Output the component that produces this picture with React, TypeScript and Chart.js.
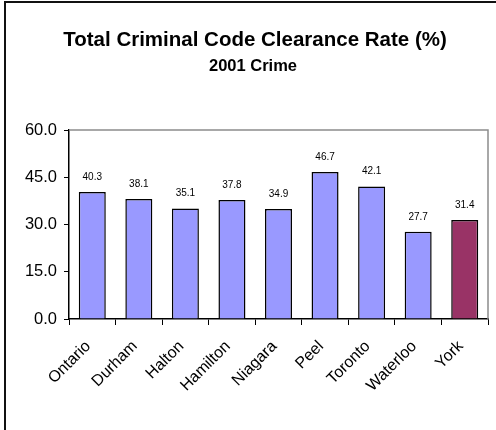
import React, { useEffect, useRef } from "react";
import { Chart, registerables } from "chart.js";

Chart.register(...registerables);

const categories = ["Ontario", "Durham", "Halton", "Hamilton", "Niagara", "Peel", "Toronto", "Waterloo", "York"];
const clearanceRates = [40.3, 38.1, 35.1, 37.8, 34.9, 46.7, 42.1, 27.7, 31.4];
const barColors = ["#9999FF", "#9999FF", "#9999FF", "#9999FF", "#9999FF", "#9999FF", "#9999FF", "#9999FF", "#993366"];
const yTickValues = [0, 15, 30, 45, 60];
const titleText = "Total Criminal Code Clearance Rate (%)";
const subtitleText = "2001 Crime";

const FONT = '"Liberation Sans", Arial, sans-serif';

const decorPlugin = {
  id: "decor",
  beforeDraw(chart: any) {
    const ctx = chart.ctx;
    ctx.save();
    ctx.fillStyle = "#ffffff";
    ctx.fillRect(0, 0, chart.width, chart.height);
    // outer frame (top and left visible)
    ctx.fillStyle = "#111111";
    ctx.fillRect(4, 1, chart.width, 2);
    ctx.fillRect(4, 1, 2, chart.height);
    // titles
    ctx.fillStyle = "#000000";
    ctx.textAlign = "center";
    ctx.textBaseline = "alphabetic";
    ctx.font = `bold 20.5px ${FONT}`;
    ctx.fillText(titleText, 255, 45.5);
    ctx.font = `bold 16.5px ${FONT}`;
    ctx.fillText(subtitleText, 253, 71);
    ctx.restore();
  },
  beforeDatasetsDraw(chart: any) {
    const { ctx, chartArea } = chart;
    ctx.save();
    ctx.strokeStyle = "#8c8c8c";
    ctx.lineWidth = 1.5;
    ctx.beginPath();
    ctx.moveTo(chartArea.left, chartArea.top);
    ctx.lineTo(chartArea.right, chartArea.top);
    ctx.lineTo(chartArea.right, chartArea.bottom);
    ctx.stroke();
    ctx.restore();
  },
  afterDatasetsDraw(chart: any) {
    const ctx = chart.ctx;
    const meta = chart.getDatasetMeta(0);
    ctx.save();
    ctx.fillStyle = "#000000";
    ctx.font = `10px ${FONT}`;
    ctx.textAlign = "center";
    ctx.textBaseline = "alphabetic";
    meta.data.forEach((bar: any, i: number) => {
      ctx.fillText(clearanceRates[i].toFixed(1), bar.x, bar.y - 12);
    });
    ctx.restore();
  },
};

export default function App() {
  const ref = useRef<HTMLCanvasElement>(null);
  useEffect(() => {
    if (!ref.current) return;
    const chart = new Chart(ref.current, {
      type: "bar",
      data: {
        labels: categories,
        datasets: [
          {
            data: clearanceRates,
            backgroundColor: barColors,
            borderColor: "#000000",
            borderWidth: 1.5,
            barPercentage: 0.58,
            categoryPercentage: 1,
          },
        ],
      },
      options: {
        responsive: false,
        animation: false,
        devicePixelRatio: 1,
        layout: { padding: { top: 130, right: 8, bottom: 0, left: 0 } },
        plugins: { legend: { display: false }, tooltip: { enabled: false } },
        scales: {
          x: {
            grid: { drawOnChartArea: false, drawTicks: true, tickLength: 6, color: "#000000", offset: true },
            border: { color: "#000000", width: 1.5 },
            ticks: {
              autoSkip: false,
              maxRotation: 45,
              minRotation: 45,
              color: "#000000",
              padding: 12,
              labelOffset: -4,
              font: { family: FONT, size: 16 },
            },
            afterFit(scale: any) {
              scale.height = 111;
            },
          },
          y: {
            min: 0,
            max: 60,
            afterBuildTicks(scale: any) {
              scale.ticks = yTickValues.map((v) => ({ value: v }));
            },
            grid: { drawOnChartArea: false, drawTicks: true, tickLength: 5, color: "#000000" },
            border: { color: "#000000", width: 1.5 },
            ticks: {
              color: "#000000",
              padding: 7,
              font: { family: FONT, size: 16.5 },
              callback: (v: any) => Number(v).toFixed(1),
            },
            afterFit(scale: any) {
              scale.width = 69;
            },
          },
        },
      },
      plugins: [decorPlugin],
    });
    return () => chart.destroy();
  }, []);
  return (
    <div style={{ position: "absolute", left: 0, top: 0, width: 496, height: 430 }}>
      <canvas ref={ref} width={496} height={430} style={{ display: "block" }} />
    </div>
  );
}
